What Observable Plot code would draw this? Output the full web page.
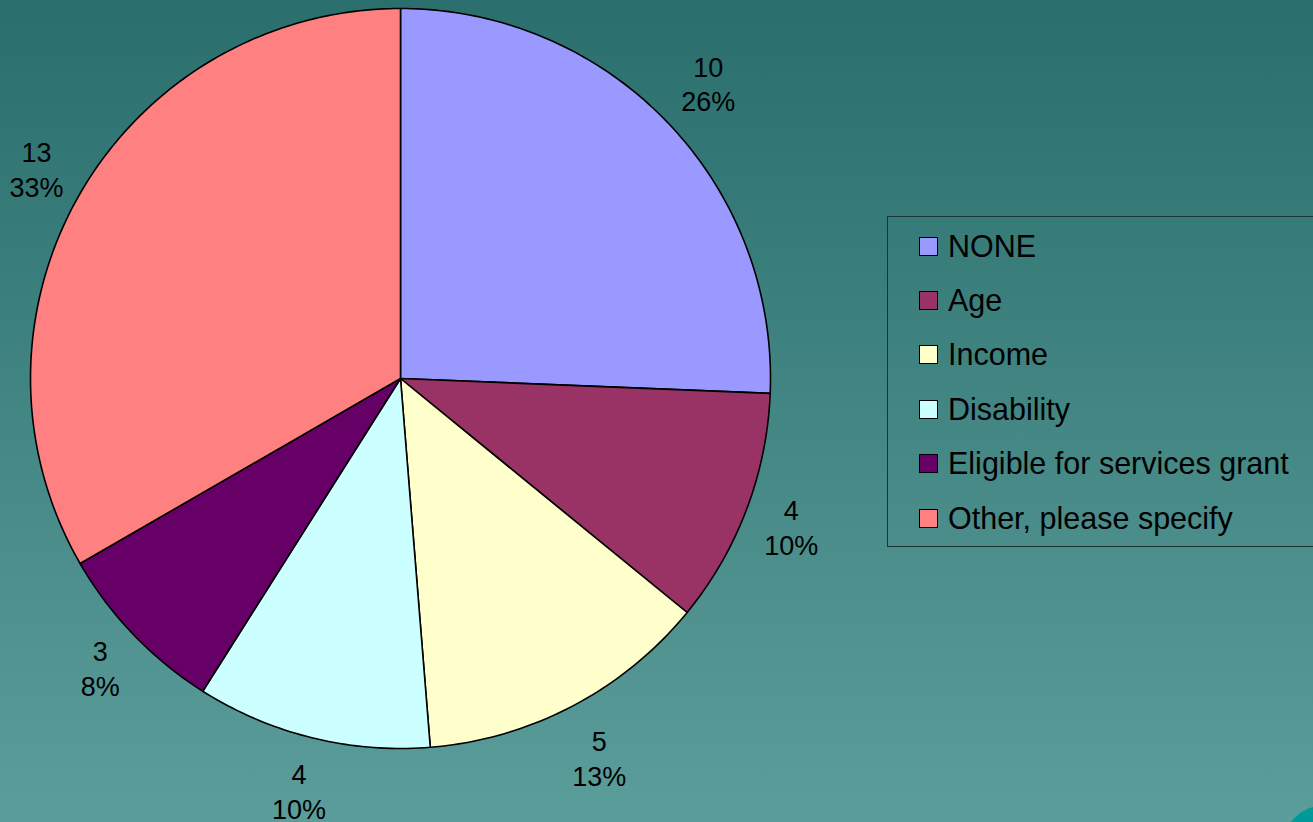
<!DOCTYPE html>
<html>
<head>
<meta charset="utf-8">
<script src="https://cdn.jsdelivr.net/npm/d3@7"></script>
<script src="https://cdn.jsdelivr.net/npm/@observablehq/plot@0.6"></script>
<style>
  html, body { margin: 0; padding: 0; }
  body {
    width: 1313px; height: 822px; overflow: hidden; position: relative;
    background: linear-gradient(to bottom, #2a6f6d 0%, #5b9d9b 100%);
    font-family: "Liberation Sans", Arial, sans-serif;
  }
  #chart { position: absolute; left: 0; top: 0; }
  #legend {
    position: absolute; left: 887px; top: 216px; width: 460px; height: 331px;
    border: 1.5px solid #1c3433; box-sizing: border-box; padding-top: 2px;
  }
  .item { height: 54.4px; display: flex; align-items: center; font-size: 30.5px; color: #000; }
  .sw { width: 17px; height: 17px; border: 1.5px solid #000; margin-left: 31px; margin-right: 10px; flex: none; }
  #corner {
    position: absolute; left: 1284px; top: 806px; width: 76px; height: 76px;
    border-radius: 50%; background: #009a99;
  }
</style>
</head>
<body>
<div id="chart"></div>
<div id="legend"></div>
<div id="corner"></div>
<script>
const categories = ["NONE", "Age", "Income", "Disability", "Eligible for services grant", "Other, please specify"];
const counts = [10, 4, 5, 4, 3, 13];
const colors = ["#9999ff", "#993366", "#ffffcc", "#ccffff", "#660066", "#ff8080"];

const rows = categories.map((c, i) => ({category: c, count: counts[i]}));
const total = d3.sum(counts);
const arcs = d3.pie().sort(null).value(d => d.count)(rows);

const W = 1313, H = 822, R = 370, cx = 400, cy = 378;
const LABEL_FONT = 27, LINE_H = 35;

// slice outlines (unit radius, y up)
const pts = [];
arcs.forEach(a => {
  const cat = a.data.category;
  pts.push({category: cat, x: 0, y: 0});
  const n = Math.max(2, Math.ceil((a.endAngle - a.startAngle) / (Math.PI * 2) * 400));
  for (let k = 0; k <= n; k++) {
    const t = a.startAngle + (a.endAngle - a.startAngle) * k / n;
    pts.push({category: cat, x: Math.sin(t), y: Math.cos(t)});
  }
});

// data labels placed outside the pie, box edge a fixed gap from the rim
const ctx = document.createElement("canvas").getContext("2d");
ctx.font = `${LABEL_FONT}px "Liberation Sans", Arial, sans-serif`;
const labels = arcs.map(a => {
  const m = (a.startAngle + a.endAngle) / 2;
  const lines = [String(a.data.count), Math.round(a.data.count / total * 100) + "%"];
  const halfW = d3.max(lines, l => ctx.measureText(l).width) / 2 + 1;
  const halfH = LINE_H;
  const s = Math.abs(Math.sin(m)), c = Math.abs(Math.cos(m));
  const ext = Math.min(s > 1e-6 ? halfW / s : Infinity, c > 1e-6 ? halfH / c : Infinity);
  const d = (R + 18 + ext) / R;
  return {x: Math.sin(m) * d, y: Math.cos(m) * d, text: lines.join("\n")};
});

const chart = Plot.plot({
  width: W, height: H,
  margin: 0,
  style: {background: "transparent", fontFamily: "'Liberation Sans', Arial, sans-serif"},
  x: {domain: [-cx / R, (W - cx) / R], axis: null},
  y: {domain: [-(H - cy) / R, cy / R], axis: null},
  color: {domain: categories, range: colors},
  marks: [
    Plot.line(pts, {x: "x", y: "y", z: "category", fill: "category", stroke: "#000", strokeWidth: 1.6, curve: "linear-closed", strokeLinejoin: "round"}),
    Plot.text(labels, {x: "x", y: "y", text: "text", fontSize: LABEL_FONT, lineHeight: LINE_H / LABEL_FONT, fill: "#000"})
  ]
});
document.getElementById("chart").appendChild(chart);

const legend = document.getElementById("legend");
categories.forEach((c, i) => {
  const item = document.createElement("div");
  item.className = "item";
  const sw = document.createElement("span");
  sw.className = "sw";
  sw.style.background = colors[i];
  const tx = document.createElement("span");
  tx.textContent = c;
  item.appendChild(sw);
  item.appendChild(tx);
  legend.appendChild(item);
});
</script>
</body>
</html>
